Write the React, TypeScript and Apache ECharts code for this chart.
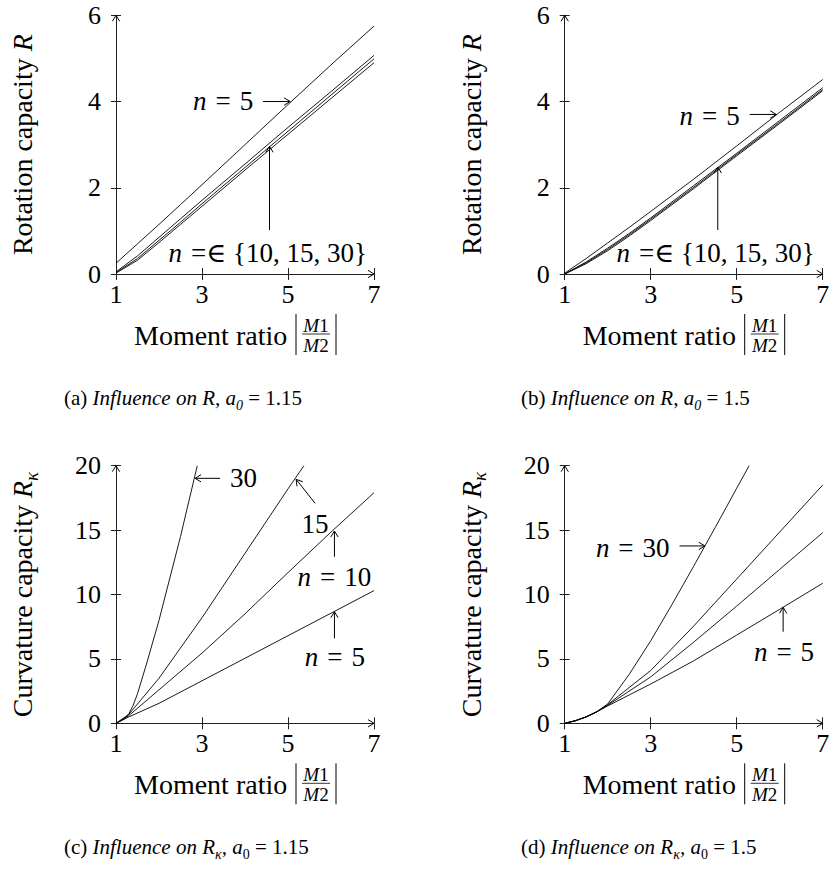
import React, { useEffect, useRef } from "react";
import * as echarts from "echarts";

// ---------------- data ----------------
const xTicks = [1, 3, 5, 7];
const rTicks = [0, 2, 4, 6];
const kTicks = [0, 5, 10, 15, 20];
const nValues = [5, 10, 15, 30];

// (a) rotation capacity R, a0 = 1.15
const aX = [1, 1.5, 2, 2.5, 3, 4, 5, 6, 7];
const aN5 = [0.25, 0.7, 1.15, 1.61, 2.07, 3.0, 3.93, 4.85, 5.75];
const aN10 = [0.05, 0.42, 0.85, 1.28, 1.71, 2.55, 3.4, 4.23, 5.07];
const aN15 = [0.03, 0.36, 0.78, 1.2, 1.63, 2.47, 3.31, 4.15, 4.99];
const aN30 = [0.02, 0.32, 0.73, 1.15, 1.57, 2.41, 3.24, 4.07, 4.9];

// (b) rotation capacity R, a0 = 1.5
const bX = [1, 1.5, 2, 2.5, 3, 4, 5, 6, 7];
const bN5 = [0.02, 0.36, 0.72, 1.08, 1.45, 2.2, 2.97, 3.75, 4.51];
const bN10 = [0, 0.28, 0.6, 0.94, 1.3, 2.05, 2.8, 3.56, 4.32];
const bN15 = [0, 0.26, 0.57, 0.91, 1.27, 2.01, 2.77, 3.52, 4.28];
const bN30 = [0, 0.24, 0.54, 0.88, 1.24, 1.98, 2.74, 3.49, 4.25];

// (c) curvature capacity R_kappa, a0 = 1.15
const cX5 = [1, 1.3, 2, 3, 4, 5, 6, 7];
const cN5 = [0, 0.5, 1.55, 3.3, 5.05, 6.8, 8.55, 10.3];
const cX10 = [1, 1.3, 2, 3, 4, 5, 6, 7];
const cN10 = [0, 0.6, 2.6, 5.45, 8.5, 11.7, 14.85, 17.9];
const cX15 = [1, 1.3, 2, 3, 4, 5, 5.37];
const cN15 = [0, 0.7, 3.5, 8.2, 13.2, 18.2, 20];
const cX30 = [1, 1.2, 1.3, 1.4, 1.5, 1.7, 2, 2.5, 2.89];
const cN30 = [0, 0.35, 0.75, 1.4, 2.3, 4.5, 8.0, 14.5, 20];

// (d) curvature capacity R_kappa, a0 = 1.5
const dX = [1, 1.25, 1.5, 1.75, 2, 3, 4, 5, 6, 7];
const dN5 = [0, 0.2, 0.5, 0.9, 1.35, 3.05, 4.85, 6.85, 8.85, 10.87];
const dN10 = [0, 0.2, 0.5, 0.9, 1.4, 3.6, 6.3, 9.1, 11.95, 14.8];
const dN15 = [0, 0.2, 0.5, 0.9, 1.45, 4.1, 7.55, 11.2, 14.85, 18.5];
const dX30 = [1, 1.25, 1.5, 1.75, 2, 2.5, 3, 3.5, 4, 4.5, 5, 5.29];
const dN30 = [0, 0.2, 0.5, 0.9, 1.5, 3.8, 6.4, 9.25, 12.2, 15.2, 18.25, 20];

const yNames = [
  "{r|Rotation capacity }{i|R}",
  "{r|Rotation capacity }{i|R}",
  "{r|Curvature capacity }{i|R}{s|κ}",
  "{r|Curvature capacity }{i|R}{s|κ}",
];
const captions = [
  "{r|(a) }{i|Influence on R, a}{s|0}{r| = 1.15}",
  "{r|(b) }{i|Influence on R, a}{s|0}{r| = 1.5}",
  "{r|(c) }{i|Influence on R}{s|κ}{i|, a}{u|0}{r| = 1.15}",
  "{r|(d) }{i|Influence on R}{s|κ}{i|, a}{u|0}{r| = 1.5}",
];

const SP = "\u2004";
// annotation labels: [panel, text, x, y, align]
const labels: [number, string, number, number, string][] = [
  [0, `{i|n}{r|${SP}=${SP}5}`, 4.19, 4.01, "right"],
  [0, `{i|n}{r|${SP}=∈ {10, 15, 30}}`, 4.53, 0.49, "center"],
  [1, `{i|n}{r|${SP}=${SP}5}`, 5.07, 3.66, "right"],
  [1, `{i|n}{r|${SP}=∈ {10, 15, 30}}`, 4.51, 0.49, "center"],
  [2, "{r|30}", 3.65, 19.05, "left"],
  [2, "{r|15}", 5.63, 15.47, "center"],
  [2, `{i|n}{r|${SP}=${SP}10}`, 6.08, 11.38, "center"],
  [2, `{i|n}{r|${SP}=${SP}5}`, 6.09, 5.17, "center"],
  [3, `{i|n}{r|${SP}=${SP}30}`, 3.44, 13.63, "right"],
  [3, `{i|n}{r|${SP}=${SP}5}`, 6.1, 5.56, "center"],
];
// annotation arrows: [panel, x0, y0, x1, y1]
const arrows: [number, number, number, number, number][] = [
  [0, 4.42, 4.0, 5.05, 4.0],
  [0, 4.57, 1.02, 4.57, 2.96],
  [1, 5.3, 3.7, 5.92, 3.7],
  [1, 4.56, 1.02, 4.56, 2.48],
  [2, 3.42, 19.02, 2.84, 19.02],
  [2, 5.63, 17.08, 5.19, 18.94],
  [2, 6.08, 12.93, 6.08, 14.93],
  [2, 6.08, 6.6, 6.08, 8.66],
  [3, 3.67, 13.77, 4.26, 13.77],
  [3, 6.08, 7.11, 6.08, 9.0],
];

// ---------------- layout ----------------
const FONT = "Liberation Serif, DejaVu Serif, serif";
const panels = [
  { left: 116, top: 15.3, height: 258.7, yTicks: rTicks, series: [[aX, aN5], [aX, aN10], [aX, aN15], [aX, aN30]] },
  { left: 564.7, top: 15.3, height: 258.7, yTicks: rTicks, series: [[bX, bN5], [bX, bN10], [bX, bN15], [bX, bN30]] },
  { left: 116, top: 465.7, height: 257.6, yTicks: kTicks, series: [[cX5, cN5], [cX10, cN10], [cX15, cN15], [cX30, cN30]] },
  { left: 564.7, top: 465.7, height: 257.6, yTicks: kTicks, series: [[dX, dN5], [dX, dN10], [dX, dN15], [dX30, dN30]] },
];
const captionLeft = [64, 521, 64, 521];
const AXIS = "#222";

function buildOption() {
  const grid = panels.map((p) => ({ left: p.left, top: p.top, width: 258, height: p.height }));
  const xAxis: any[] = [];
  const yAxis: any[] = [];
  panels.forEach((p, i) => {
    xAxis.push({
      type: "value", gridIndex: i, min: xTicks[0], max: xTicks[xTicks.length - 1], interval: 2, position: "bottom",
      axisLine: { show: true, onZero: false, lineStyle: { color: AXIS, width: 1 } },
      axisTick: { show: true, inside: false, length: 6, lineStyle: { color: AXIS } },
      axisLabel: { color: "#000", fontFamily: FONT, fontSize: 26, margin: 7 },
      splitLine: { show: false },
    });
    const yMax = p.yTicks[p.yTicks.length - 1];
    const yInt = p.yTicks[1] - p.yTicks[0];
    yAxis.push({
      type: "value", gridIndex: i, min: 0, max: yMax, interval: yInt, position: "left",
      axisLine: { show: true, onZero: false, lineStyle: { color: AXIS, width: 1 } },
      axisTick: { show: true, inside: false, length: 5, lineStyle: { color: AXIS } },
      axisLabel: { color: "#000", fontFamily: FONT, fontSize: 26, margin: 15 },
      splitLine: { show: false },
    });
  });
  panels.forEach((p, i) => {
    xAxis.push({
      type: "value", gridIndex: i, min: xTicks[0], max: xTicks[xTicks.length - 1], interval: 2, position: "bottom",
      axisLine: { show: false, onZero: false }, axisLabel: { show: false },
      axisTick: { show: true, inside: true, length: 6, lineStyle: { color: AXIS } },
      splitLine: { show: false },
    });
    const yMax = p.yTicks[p.yTicks.length - 1];
    const yInt = p.yTicks[1] - p.yTicks[0];
    yAxis.push({
      type: "value", gridIndex: i, min: 0, max: yMax, interval: yInt, position: "left",
      axisLine: { show: false, onZero: false }, axisLabel: { show: false },
      axisTick: { show: true, inside: true, length: 5, lineStyle: { color: AXIS } },
      splitLine: { show: false },
    });
  });
  const series: any[] = [];
  panels.forEach((p, i) => {
    p.series.forEach(([xs, ys], k) => {
      series.push({
        type: "line", name: `n = ${nValues[k]}`, xAxisIndex: i, yAxisIndex: i,
        data: xs.map((x, j) => [x, ys[j]]),
        showSymbol: false, symbol: "none", silent: true,
        lineStyle: { color: "#000", width: 0.9 },
      });
    });
  });
  return { animation: false, backgroundColor: "#fff", grid, xAxis, yAxis, series };
}

function head(tip: number[], dx: number, dy: number, size = 7, a = 0.6) {
  const len = Math.hypot(dx, dy);
  const bx = -dx / len, by = -dy / len;
  const rot = (ang: number) => [
    tip[0] + size * (bx * Math.cos(ang) - by * Math.sin(ang)),
    tip[1] + size * (bx * Math.sin(ang) + by * Math.cos(ang)),
  ];
  return {
    type: "polyline", silent: true, z: 20,
    shape: { points: [rot(a), [tip[0], tip[1]], rot(-a)] },
    style: { stroke: "#000", fill: null, lineWidth: 1 },
  };
}

function rich(size: number, lh: number) {
  const sub = Math.round(size * 0.68);
  return {
    r: { fontFamily: FONT, fontSize: size, fill: "#000", lineHeight: lh },
    i: { fontFamily: FONT, fontSize: size, fontStyle: "italic", fill: "#000", lineHeight: lh },
    s: { fontFamily: FONT, fontSize: sub, fontStyle: "italic", fill: "#000", verticalAlign: "bottom" },
    u: { fontFamily: FONT, fontSize: sub, fill: "#000", verticalAlign: "bottom" },
  };
}

function buildGraphic(chart: any) {
  const els: any[] = [];
  const px = (i: number, d: number[]) => chart.convertToPixel({ xAxisIndex: i, yAxisIndex: i }, d) as number[];
  panels.forEach((p, i) => {
    const yMax = p.yTicks[p.yTicks.length - 1];
    const o = px(i, [1, 0]);
    const xe = px(i, [7, 0]);
    const ye = px(i, [1, yMax]);
    els.push(head(xe, 1, 0, 7, 0.55));
    els.push(head(ye, 0, -1, 7, 0.55));
    // y axis name
    els.push({
      type: "text", silent: true, x: o[0] - 93.5, y: (o[1] + ye[1]) / 2, rotation: Math.PI / 2,
      style: {
        text: yNames[i], fontFamily: FONT, fontSize: 28, fill: "#000", align: "center", verticalAlign: "middle",
        lineHeight: 36, rich: rich(28, 36),
      },
    });
    // x axis name: Moment ratio |M1/M2|
    const cx = (o[0] + xe[0]) / 2;
    const cy = o[1] + 60;
    const tw = 153;
    const start = cx - 111;
    els.push({
      type: "text", silent: true, x: start, y: cy + 1,
      style: { text: "Moment ratio", fontFamily: FONT, fontSize: 28, fill: "#000", align: "left", verticalAlign: "middle" },
    });
    const bl = start + tw + 9;
    const br = bl + 40;
    els.push({ type: "line", silent: true, shape: { x1: bl, y1: cy - 20, x2: bl, y2: cy + 21 }, style: { stroke: "#000", lineWidth: 1 } });
    els.push({ type: "line", silent: true, shape: { x1: br, y1: cy - 20, x2: br, y2: cy + 21 }, style: { stroke: "#000", lineWidth: 1 } });
    els.push({ type: "line", silent: true, shape: { x1: bl + 6, y1: cy, x2: br - 6, y2: cy }, style: { stroke: "#000", lineWidth: 0.8 } });
    els.push({
      type: "text", silent: true, x: (bl + br) / 2, y: cy - 9,
      style: { text: "{i|M}{r|1}", fontFamily: FONT, fontSize: 19, fill: "#000", align: "center", verticalAlign: "middle", rich: rich(19, 20) },
    });
    els.push({
      type: "text", silent: true, x: (bl + br) / 2, y: cy + 11,
      style: { text: "{i|M}{r|2}", fontFamily: FONT, fontSize: 19, fill: "#000", align: "center", verticalAlign: "middle", rich: rich(19, 20) },
    });
    // caption
    els.push({
      type: "text", silent: true, x: captionLeft[i], y: o[1] + 124,
      style: {
        text: captions[i], fontFamily: FONT, fontSize: 21, fill: "#000", align: "left", verticalAlign: "middle",
        lineHeight: 28, rich: rich(21, 28),
      },
    });
  });
  labels.forEach(([i, text, x, y, align]) => {
    const pt = px(i, [x, y]);
    els.push({
      type: "text", silent: true, x: pt[0], y: pt[1], z: 15,
      style: {
        text, fontFamily: FONT, fontSize: 27, fill: "#000", align, verticalAlign: "middle",
        lineHeight: 32, rich: rich(27, 32),
      },
    });
  });
  arrows.forEach(([i, x0, y0, x1, y1]) => {
    const a = px(i, [x0, y0]);
    const b = px(i, [x1, y1]);
    els.push({
      type: "line", silent: true, z: 20,
      shape: { x1: a[0], y1: a[1], x2: b[0], y2: b[1] },
      style: { stroke: "#000", lineWidth: 1 },
    });
    els.push(head(b, b[0] - a[0], b[1] - a[1], 7, 0.55));
  });
  return els;
}

export default function App() {
  const ref = useRef<HTMLDivElement>(null);
  useEffect(() => {
    document.body.style.margin = "0";
    const chart = echarts.init(ref.current!, null, { renderer: "svg" });
    chart.setOption(buildOption());
    chart.setOption({ graphic: { elements: buildGraphic(chart) } });
    return () => chart.dispose();
  }, []);
  return <div ref={ref} style={{ width: 833, height: 872 }} />;
}
